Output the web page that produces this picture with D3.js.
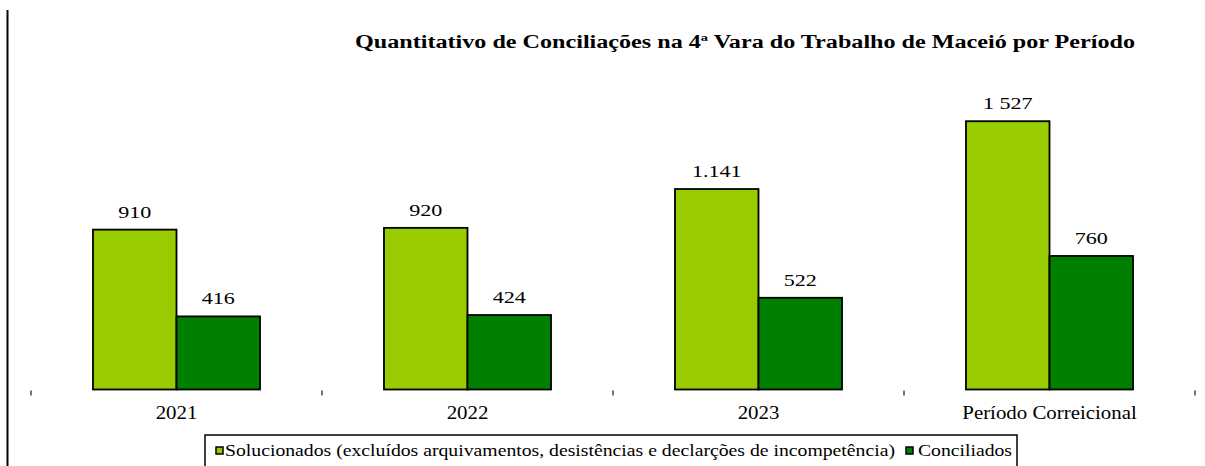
<!DOCTYPE html>
<html>
<head>
<meta charset="utf-8">
<script src="https://cdn.jsdelivr.net/npm/d3@7"></script>
<style>
  html, body { margin: 0; padding: 0; background: #fff; }
  svg { display: block; }
</style>
</head>
<body>
<svg id="chart" width="1205" height="466" font-family="'Liberation Serif', 'Times New Roman', Times, 'DejaVu Serif', serif"></svg>
<script>
// ---- data ----
const categories = ["2021", "2022", "2023", "Período Correicional"];
const seriesNames = [
  "Solucionados (excluídos arquivamentos, desistências e declarções de incompetência)",
  "Conciliados"
];
const solucionados = [910, 920, 1141, 1527];
const conciliados = [416, 424, 522, 760];
const solucionadosLabels = ["910", "920", "1.141", "1 527"];
const conciliadosLabels = ["416", "424", "522", "760"];
const titleText = "Quantitativo de Conciliações na 4ª Vara do Trabalho de Maceió por Período";
const colors = ["#99CC00", "#008000"];

const series = [
  { name: seriesNames[0], values: solucionados, labels: solucionadosLabels, color: colors[0] },
  { name: seriesNames[1], values: conciliados, labels: conciliadosLabels, color: colors[1] }
];

// ---- layout ----
const svg = d3.select("#chart");
const plot = { left: 31, right: 1195, bottom: 389.5 };

const x0 = d3.scaleBand().domain(categories).range([plot.left, plot.right]).paddingInner(0).paddingOuter(0);
const x1 = d3.scaleBand().domain(d3.range(series.length)).range([0, x0.bandwidth()]).paddingInner(0).paddingOuter(0.742);
const y = d3.scaleLinear().domain([0, 2000]).range([plot.bottom, plot.bottom - 2000 * 0.1757]);

// left frame line
svg.append("line")
  .attr("x1", 7.5).attr("x2", 7.5).attr("y1", 10).attr("y2", 466)
  .attr("stroke", "#000").attr("stroke-width", 2);

// title
svg.append("text")
  .attr("x", 355).attr("y", 48)
  .attr("font-size", 18).attr("font-weight", "bold")
  .attr("textLength", 780).attr("lengthAdjust", "spacingAndGlyphs")
  .text(titleText);

// ticks between categories (no domain line)
const tickPositions = categories.map(c => x0(c)).concat([x0(categories[categories.length - 1]) + x0.step()]);
svg.append("g").selectAll("line").data(tickPositions).join("line")
  .attr("x1", d => d).attr("x2", d => d)
  .attr("y1", plot.bottom + 1).attr("y2", plot.bottom + 6)
  .attr("stroke", "#444").attr("stroke-width", 1.5);

// bars
const groups = svg.append("g").selectAll("g").data(categories).join("g")
  .attr("transform", c => `translate(${x0(c)},0)`);

series.forEach((s, si) => {
  groups.append("rect")
    .attr("x", x1(si))
    .attr("width", x1.bandwidth())
    .attr("y", (c, i) => y(s.values[i]))
    .attr("height", (c, i) => y(0) - y(s.values[i]))
    .attr("fill", s.color)
    .attr("stroke", "#000").attr("stroke-width", 1.8);

  groups.append("text")
    .attr("transform", (c, i) => `translate(${x1(si) + x1.bandwidth() / 2},${y(s.values[i]) - 12}) scale(1.3,1)`)
    .attr("text-anchor", "middle")
    .attr("font-size", 17)
    .text((c, i) => s.labels[i]);
});

// category labels
svg.append("g").selectAll("text").data(categories).join("text")
  .attr("transform", c => `translate(${x0(c) + x0.bandwidth() / 2},419) scale(1.16,1)`)
  .attr("text-anchor", "middle")
  .attr("font-size", 18)
  .text(c => c);

// legend
const legend = svg.append("g");
legend.append("rect")
  .attr("x", 205).attr("y", 435).attr("width", 812).attr("height", 60)
  .attr("fill", "#fff").attr("stroke", "#000").attr("stroke-width", 1.5);

const legendItems = [
  { sx: 216, tx: 225, tw: 670 },
  { sx: 906, tx: 918, tw: 94 }
];
legendItems.forEach((it, i) => {
  legend.append("rect")
    .attr("x", it.sx).attr("y", 447).attr("width", 7).attr("height", 7)
    .attr("fill", series[i].color).attr("stroke", "#000").attr("stroke-width", 1.5);
  legend.append("text")
    .attr("x", it.tx).attr("y", 456)
    .attr("font-size", 17)
    .attr("textLength", it.tw).attr("lengthAdjust", "spacingAndGlyphs")
    .text(series[i].name);
});
</script>
</body>
</html>
